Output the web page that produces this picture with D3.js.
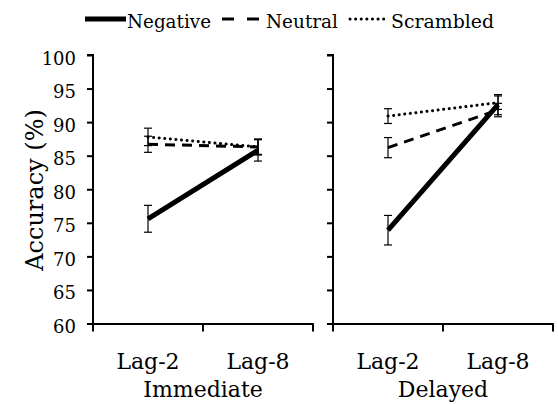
<!DOCTYPE html>
<html><head><meta charset="utf-8">
<script src="https://cdn.jsdelivr.net/npm/d3@7"></script>
<style>body{margin:0;background:#fff}svg{display:block}</style>
</head><body>
<svg id="c" width="558" height="404"></svg>
<script>
const panels = ["Immediate", "Delayed"];
const lags = ["Lag-2", "Lag-8"];
const seriesNames = ["Negative", "Neutral", "Scrambled"];
// values[panel][lag]
const negative = [[75.6, 85.8], [73.9, 92.6]];
const neutral = [[86.7, 86.3], [86.2, 91.8]];
const scrambled = [[87.8, 86.3], [90.9, 92.9]];
const negativeErr = [[2.0, 1.6], [2.2, 1.5]];
const neutralErr = [[1.2, 1.1], [1.5, 1.0]];
const scrambledErr = [[1.3, 1.2], [1.1, 1.0]];
const yTicks = [60, 65, 70, 75, 80, 85, 90, 95, 100];

const font = "'DejaVu Serif', 'Liberation Serif', serif";
const svg = d3.select("#c");
const styles = {
  Negative: {w: 5, dash: null, cap: "butt"},
  Neutral: {w: 3, dash: "10,7", cap: "butt"},
  Scrambled: {w: 3, dash: "0.1,5.5", cap: "round"}
};
const vals = {Negative: negative, Neutral: neutral, Scrambled: scrambled};
const errs = {Negative: negativeErr, Neutral: neutralErr, Scrambled: scrambledErr};

const y = d3.scaleLinear().domain([60, 100]).range([323.5, 55]);
const panelX = [[93, 313], [333, 553]];

panels.forEach((p, pi) => {
  const x = d3.scaleBand().domain(lags).range(panelX[pi]);
  const g = svg.append("g");
  const ya = g.append("g").attr("transform", `translate(${panelX[pi][0]},0)`)
    .call(d3.axisLeft(y).tickValues(yTicks).tickSize(6).tickFormat(pi === 0 ? d3.format("d") : ""));
  ya.select(".domain").attr("stroke-width", 2).attr("d", `M-6,${y(100)}H0V${y(60)}`);
  ya.selectAll(".tick line").attr("stroke-width", 2);
  ya.selectAll(".tick text").attr("font-family", font).attr("font-size", 18).attr("fill", "#000")
    .attr("dx", -8).attr("dy", "0.5em");
  const xa = g.append("g").attr("transform", `translate(0,${y(60)})`)
    .call(d3.axisBottom(x).tickSize(0).tickFormat(""));
  xa.select(".domain").attr("stroke-width", 2);
  const bounds = [panelX[pi][0], (panelX[pi][0] + panelX[pi][1]) / 2, panelX[pi][1]];
  xa.selectAll("line.sep").data(bounds).enter().append("line").attr("class", "sep")
    .attr("x1", d => d).attr("x2", d => d).attr("y1", 0).attr("y2", 8)
    .attr("stroke", "#000").attr("stroke-width", 2);
  g.selectAll("text.lag").data(lags).enter().append("text").attr("class", "lag")
    .attr("x", d => x(d) + x.bandwidth() / 2).attr("y", 369)
    .attr("text-anchor", "middle").attr("font-family", font).attr("font-size", 22).text(d => d);
  g.append("text").attr("x", (panelX[pi][0] + panelX[pi][1]) / 2).attr("y", 397)
    .attr("text-anchor", "middle").attr("font-family", font).attr("font-size", 22).text(p);

  const order = ["Scrambled", "Neutral", "Negative"];
  order.forEach(s => {
    const pts = lags.map((l, li) => ({x: x(l) + x.bandwidth() / 2, v: vals[s][pi][li], e: errs[s][pi][li]}));
    pts.forEach(d => {
      g.append("line").attr("x1", d.x).attr("x2", d.x).attr("y1", y(d.v + d.e)).attr("y2", y(d.v - d.e))
        .attr("stroke", "#000").attr("stroke-width", 1.2);
      [d.v + d.e, d.v - d.e].forEach(v => g.append("line").attr("x1", d.x - 4).attr("x2", d.x + 4)
        .attr("y1", y(v)).attr("y2", y(v)).attr("stroke", "#000").attr("stroke-width", 1.2));
    });
    const line = d3.line().x(d => d.x).y(d => y(d.v));
    g.append("path").datum(pts).attr("d", line).attr("fill", "none").attr("stroke", "#000")
      .attr("stroke-width", styles[s].w).attr("stroke-dasharray", styles[s].dash)
      .attr("stroke-linecap", styles[s].cap);
  });
});

svg.append("text").attr("transform", "translate(43,190) rotate(-90)")
  .attr("text-anchor", "middle").attr("font-family", font).attr("font-size", 24).text("Accuracy (%)");

const legendPos = [{x1: 85, x2: 126, tx: 127}, {x1: 222, x2: 260, tx: 266}, {x1: 350, x2: 384, tx: 391}];
seriesNames.forEach((s, i) => {
  const lp = legendPos[i];
  svg.append("line").attr("x1", lp.x1).attr("x2", lp.x2).attr("y1", 19).attr("y2", 19)
    .attr("stroke", "#000").attr("stroke-width", s === "Negative" ? 5 : 3)
    .attr("stroke-dasharray", s === "Neutral" ? "12,13" : (s === "Scrambled" ? "0.1,5.5" : null))
    .attr("stroke-linecap", styles[s].cap);
  svg.append("text").attr("x", lp.tx).attr("y", 28).attr("font-family", font).attr("font-size", 19)
    .attr("textLength", [84, 72, 103][i]).attr("lengthAdjust", "spacingAndGlyphs").text(s);
});
</script>
</body></html>
